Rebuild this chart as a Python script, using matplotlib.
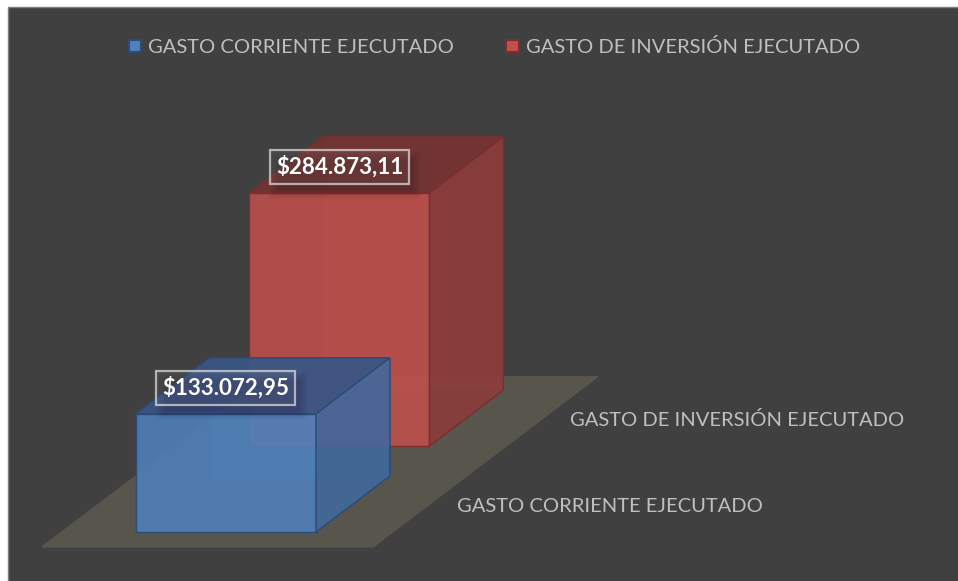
import matplotlib
matplotlib.use("Agg")
import matplotlib.pyplot as plt
from matplotlib.colors import to_rgba
from matplotlib.patches import Polygon, Rectangle

series = ["GASTO CORRIENTE EJECUTADO", "GASTO DE INVERSIÓN EJECUTADO"]
values = [133072.95, 284873.11]
value_labels = ["$133.072,95", "$284.873,11"]
face_colors = ["#4f81bd", "#c0504d"]
side_colors = ["#41689a", "#8a3c3a"]
top_colors = ["#3a5583", "#733332"]
edge_colors = ["#2b4c78", "#7a2f2d"]

# oblique projection, everything in picture pixels
origin_x, origin_y = 42, 547
floor_w = 331
step_x, step_y = 113.5, 86
y_scale = 118.3 / 133072.95
bar_x, bar_w = 0.224, 0.544
bar_d0, bar_d1 = 0.174, 0.825


def project(x, d, v=0):
    return (origin_x + x * floor_w + d * step_x,
            origin_y - d * step_y - v * y_scale)


def face(ax, pts, color, edge, alpha, z, edge_alpha=1.0):
    ax.add_patch(Polygon([project(*p) for p in pts], closed=True, facecolor=to_rgba(color, alpha),
                         edgecolor=to_rgba(edge, edge_alpha), linewidth=1.0, zorder=z))


def bar(ax, i, v):
    x0, x1 = bar_x, bar_x + bar_w
    d0, d1 = i + bar_d0, i + bar_d1
    z = 10 - i * 5
    c, s, t, e = face_colors[i], side_colors[i], top_colors[i], edge_colors[i]
    # inner faces first, they show through
    face(ax, [(x0, d1, 0), (x1, d1, 0), (x1, d1, v), (x0, d1, v)], c, e, 0.3, z, 0.3)
    face(ax, [(x0, d0, 0), (x0, d1, 0), (x0, d1, v), (x0, d0, v)], s, e, 0.1, z, 0.15)
    face(ax, [(x0, d0, 0), (x1, d0, 0), (x1, d1, 0), (x0, d1, 0)], c, e, 0.2, z, 0.25)
    face(ax, [(x0, d0, 0), (x1, d0, 0), (x1, d0, v), (x0, d0, v)], c, e, 0.86, z + 1)
    face(ax, [(x1, d0, 0), (x1, d1, 0), (x1, d1, v), (x1, d0, v)], s, e, 0.88, z + 1)
    face(ax, [(x0, d0, v), (x1, d0, v), (x1, d1, v), (x0, d1, v)], t, e, 0.92, z + 1)


fig = plt.figure(figsize=(9.58, 5.81), dpi=100, facecolor="white")
ax = fig.add_axes([0, 0, 1, 1])
ax.set_xlim(0, 958)
ax.set_ylim(581, 0)
ax.axis("off")
plt.rcParams["font.family"] = "Lato"

ax.add_patch(Rectangle((8, 7), 960, 590, facecolor="#404040", edgecolor="#7f7f7f", linewidth=1, zorder=0))

# floor
face(ax, [(0, 0), (1, 0), (1, 1.98), (0, 1.98)], "#58564c", "#58564c", 1, 1)

for i in range(2):
    bar(ax, i, values[i])
    tx, ty = project(1, i + 0.5)
    ax.text(tx + 27, ty + 2, series[i], color="#bfbfbf", fontsize=14.5, va="center", ha="left", zorder=3)

    lx, ly = project(bar_x + bar_w / 2, i + bar_d0, values[i])
    ly -= 26
    # soft shadow under the label
    for grow in range(1, 11):
        ax.add_patch(Rectangle((lx - 66 - grow + 6, ly - 14 - grow + 8), 132 + 2 * grow, 28 + 2 * grow,
                               facecolor="black", alpha=0.016, edgecolor="none", zorder=20))
    ax.text(lx, ly, value_labels[i], color="white", fontsize=16.1, fontweight="bold", ha="center", va="center",
            zorder=22, bbox=dict(boxstyle="square,pad=0.27", facecolor=(1, 1, 1, 0.06),
                                 edgecolor=(0.85, 0.85, 0.85, 0.75), linewidth=1.6))

handles = [Rectangle((0, 0), 1, 1, facecolor=face_colors[i], edgecolor=edge_colors[i], linewidth=1.5) for i in range(2)]
leg = ax.legend(handles, series, ncols=2, loc="center", bbox_to_anchor=(0.5 + 15.5 / 958, 1 - 47 / 581), frameon=False,
                fontsize=14.5, labelcolor="#bfbfbf", handlelength=0.6, handleheight=0.6, handletextpad=0.35,
                columnspacing=2.6, borderpad=0, borderaxespad=0)
leg.set_zorder(30)

fig.savefig("out.png", dpi=100, facecolor="white")
